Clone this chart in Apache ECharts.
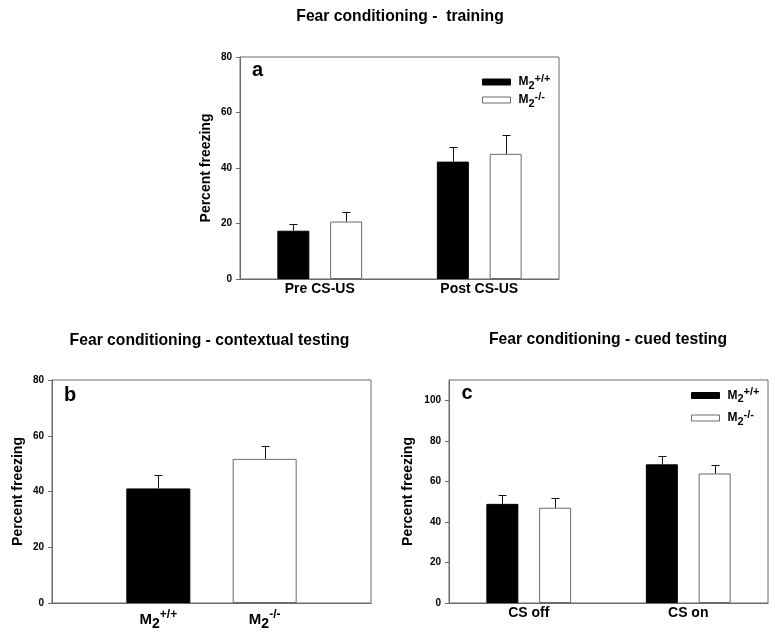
<!DOCTYPE html>
<html><head><meta charset="utf-8">
<script src="https://cdn.jsdelivr.net/npm/echarts@6/dist/echarts.min.js"></script>
<style>html,body{margin:0;padding:0;background:#fff}#c{width:775px;height:643px}</style>
</head><body><div id="c"></div>
<script>
// ---- data ----
const seriesNames = ['M2+/+', 'M2-/-'];
const trainCategories = ['Pre CS-US', 'Post CS-US'];
const trainWT = [17.4, 42.3];
const trainWTErr = [2.6, 5.1];
const trainKO = [20.7, 45.1];
const trainKOErr = [3.4, 6.9];
const contextCategories = ['M2+/+', 'M2-/-'];
const contextValues = [41.1, 51.7];
const contextErr = [4.9, 4.6];
const cuedCategories = ['CS off', 'CS on'];
const cuedWT = [48.9, 68.4];
const cuedWTErr = [4.6, 4.1];
const cuedKO = [47.0, 63.9];
const cuedKOErr = [4.6, 4.1];
const ticks80 = [0, 20, 40, 60, 80];
const ticks110 = [0, 20, 40, 60, 80, 100];
const titles = ['Fear conditioning -  training', 'Fear conditioning - contextual testing', 'Fear conditioning - cued testing'];
const panelLetters = ['a', 'b', 'c'];
const yName = 'Percent freezing';

// ---- style ----
const FONT = 'Liberation Sans, Arial, sans-serif';
const AXIS = '#6a6a6a';
const barW = 32, gapRatio = 0.65;
const pairOffset = barW * (1 + gapRatio) / 2;

function geno(name) {
  return '{m|' + name[0] + '}{sub|' + name[1] + '}{sup|' + name.slice(2) + '}';
}
const labelRich = {
  m: {fontSize: 15, fontWeight: 'bold', fontFamily: FONT, color: '#000', lineHeight: 22, verticalAlign: 'middle'},
  sub: {fontSize: 14, fontWeight: 'bold', fontFamily: FONT, color: '#000', lineHeight: 12, verticalAlign: 'bottom'},
  sup: {fontSize: 12, fontWeight: 'bold', fontFamily: FONT, color: '#000', lineHeight: 12, verticalAlign: 'top'}
};
const legendRich = {
  m: {fontSize: 12, fontWeight: 'bold', fontFamily: FONT, color: '#000', lineHeight: 18, verticalAlign: 'middle', padding: [0, 0, 0, 3]},
  sub: {fontSize: 11, fontWeight: 'bold', fontFamily: FONT, color: '#000', lineHeight: 8, verticalAlign: 'bottom'},
  sup: {fontSize: 11, fontWeight: 'bold', fontFamily: FONT, color: '#000', lineHeight: 8, verticalAlign: 'top'}
};

const wtStyle = {color: '#000', borderColor: '#000', borderWidth: 1};
const koStyle = {color: '#fff', borderColor: AXIS, borderWidth: 1};

function yAxis(idx, max, nameGap, customTicks) {
  const ax = {
    type: 'value', gridIndex: idx, min: 0, max: max, interval: 20,
    name: yName, nameLocation: 'middle', nameGap: nameGap,
    nameTextStyle: {fontSize: 14, fontWeight: 'bold', fontFamily: FONT, color: '#000'},
    axisLine: {show: true, lineStyle: {color: AXIS, width: 1}},
    axisTick: {show: true, inside: false, length: 4, lineStyle: {color: AXIS}},
    axisLabel: {fontSize: 10, fontWeight: 'bold', fontFamily: FONT, color: '#000', margin: 8},
    splitLine: {show: false}
  };
  if (customTicks) {
    ax.axisLabel.customValues = customTicks;
    ax.axisTick.customValues = customTicks;
  }
  return ax;
}
function xAxis(idx, data, opts) {
  return Object.assign({
    type: 'category', gridIndex: idx, data: data,
    axisLine: {show: true, lineStyle: {color: AXIS, width: 1}},
    axisTick: {show: false},
    axisLabel: {fontSize: 14, fontWeight: 'bold', fontFamily: FONT, color: '#000', margin: 3, interval: 0},
    splitLine: {show: false}
  }, opts || {});
}

function errorSeries(axisIdx, rows, offsets) {
  return {
    type: 'custom', xAxisIndex: axisIdx, yAxisIndex: axisIdx, z: 3, silent: true,
    encode: {x: 0, y: 1},
    data: rows,
    renderItem: function (params, api) {
      const cat = api.value(0), v = api.value(1), e = api.value(2), g = api.value(3);
      const base = api.coord([cat, v]);
      const top = api.coord([cat, v + e]);
      const x = Math.round(base[0] + offsets[g]) + 0.5;
      const yt = Math.round(top[1]) + 0.5;
      return {type: 'group', children: [
        {type: 'line', shape: {x1: x, y1: base[1], x2: x, y2: yt}, style: {stroke: '#111', lineWidth: 1}},
        {type: 'line', shape: {x1: x - 4, y1: yt, x2: x + 4, y2: yt}, style: {stroke: '#111', lineWidth: 1}}
      ]};
    }
  };
}
function pairRows(wt, wtErr, ko, koErr) {
  const rows = [];
  wt.forEach((v, i) => rows.push([i, v, wtErr[i], 0]));
  ko.forEach((v, i) => rows.push([i, v, koErr[i], 1]));
  return rows;
}

const contextAxisData = [''].concat(contextCategories).concat(['']);
const contextBarData = ['-'].concat(contextValues.map((v, i) => ({value: v, itemStyle: i === 0 ? wtStyle : koStyle}))).concat(['-']);
const contextRows = contextValues.map((v, i) => [i + 1, v, contextErr[i], 0]);

function legend(left, top, gap) {
  return {
    data: seriesNames, orient: 'vertical', left: left, top: top, icon: 'rect', padding: 0,
    itemWidth: 28, itemHeight: 6, itemGap: gap, selectedMode: false,
    itemStyle: {borderWidth: 1},
    formatter: geno, textStyle: {rich: legendRich}
  };
}

const chart = echarts.init(document.getElementById('c'), null, {renderer: 'canvas'});
chart.setOption({
  animation: false,
  backgroundColor: '#fff',
  grid: [
    {left: 240, top: 57, width: 319, height: 222, show: true, borderColor: AXIS, borderWidth: 1, backgroundColor: 'transparent'},
    {left: 52, top: 380, width: 319, height: 223, show: true, borderColor: AXIS, borderWidth: 1, backgroundColor: 'transparent'},
    {left: 449, top: 380, width: 319, height: 223, show: true, borderColor: AXIS, borderWidth: 1, backgroundColor: 'transparent'}
  ],
  xAxis: [
    xAxis(0, trainCategories),
    xAxis(1, contextAxisData, {boundaryGap: false, axisLabel: {interval: 0, margin: 6, formatter: function (n) { return n ? geno(n) : ''; }, rich: labelRich}}),
    xAxis(2, cuedCategories)
  ],
  yAxis: [
    yAxis(0, 80, 27),
    yAxis(1, 80, 27),
    yAxis(2, 110, 34, ticks110)
  ],
  legend: [legend(482, 73, 0), legend(691, 386.5, 4.5)],
  series: [
    {name: seriesNames[0], type: 'bar', xAxisIndex: 0, yAxisIndex: 0, data: trainWT, barWidth: barW, barGap: (gapRatio * 100) + '%', itemStyle: wtStyle},
    {name: seriesNames[1], type: 'bar', xAxisIndex: 0, yAxisIndex: 0, data: trainKO, barWidth: barW, barGap: (gapRatio * 100) + '%', itemStyle: koStyle},
    errorSeries(0, pairRows(trainWT, trainWTErr, trainKO, trainKOErr), [-pairOffset, pairOffset]),
    {name: 'context', type: 'bar', xAxisIndex: 1, yAxisIndex: 1, data: contextBarData, barWidth: 64},
    errorSeries(1, contextRows, [0]),
    {name: seriesNames[0], type: 'bar', xAxisIndex: 2, yAxisIndex: 2, data: cuedWT, barWidth: barW, barGap: (gapRatio * 100) + '%', itemStyle: wtStyle},
    {name: seriesNames[1], type: 'bar', xAxisIndex: 2, yAxisIndex: 2, data: cuedKO, barWidth: barW, barGap: (gapRatio * 100) + '%', itemStyle: koStyle},
    errorSeries(2, pairRows(cuedWT, cuedWTErr, cuedKO, cuedKOErr), [-pairOffset, pairOffset])
  ],
  graphic: [
    {type: 'text', x: 400, y: 16.7, style: {text: titles[0], font: 'bold 15.7px ' + FONT, fill: '#000', align: 'center', verticalAlign: 'middle'}},
    {type: 'text', x: 209.5, y: 341, style: {text: titles[1], font: 'bold 15.7px ' + FONT, fill: '#000', align: 'center', verticalAlign: 'middle'}},
    {type: 'text', x: 608, y: 340, style: {text: titles[2], font: 'bold 15.7px ' + FONT, fill: '#000', align: 'center', verticalAlign: 'middle'}},
    {type: 'text', x: 252, y: 70, style: {text: panelLetters[0], font: 'bold 20px ' + FONT, fill: '#000', align: 'left', verticalAlign: 'middle'}},
    {type: 'text', x: 64, y: 395, style: {text: panelLetters[1], font: 'bold 20px ' + FONT, fill: '#000', align: 'left', verticalAlign: 'middle'}},
    {type: 'text', x: 461.5, y: 393, style: {text: panelLetters[2], font: 'bold 20px ' + FONT, fill: '#000', align: 'left', verticalAlign: 'middle'}}
  ]
});
</script></body></html>
